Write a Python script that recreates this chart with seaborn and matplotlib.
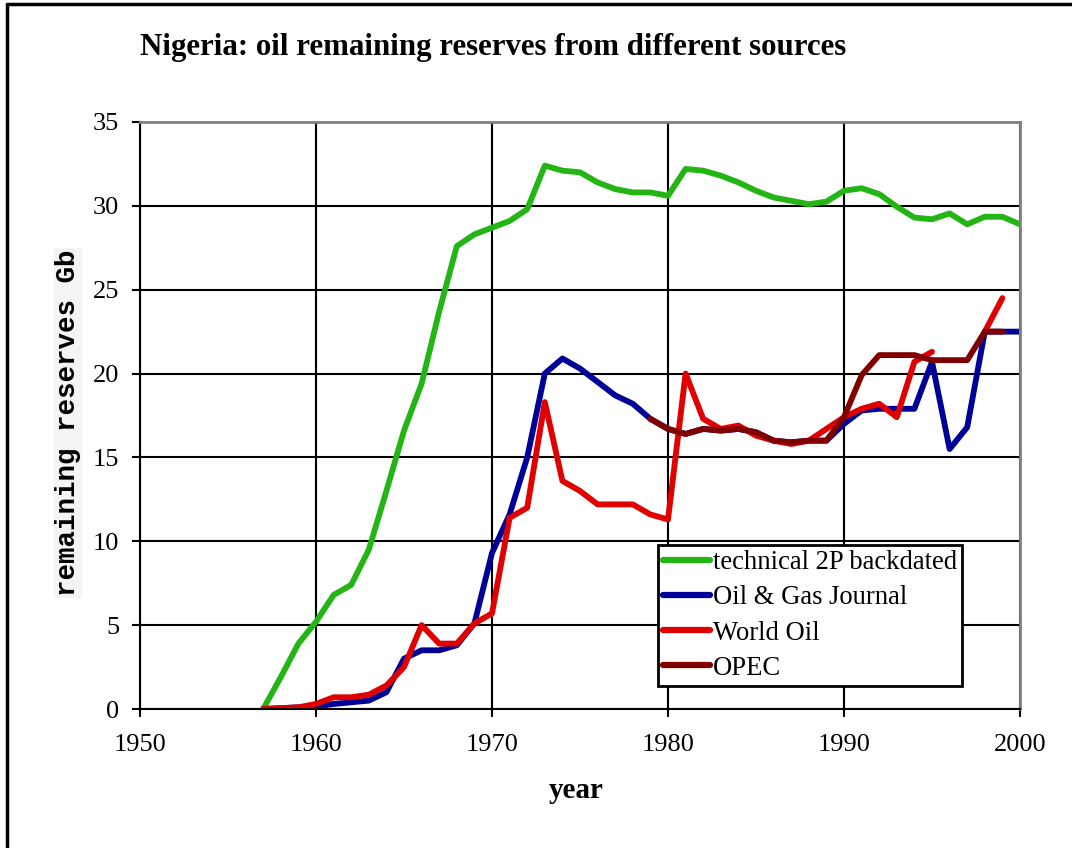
import pandas as pd
import matplotlib
matplotlib.use('Agg')
import matplotlib.pyplot as plt
from matplotlib.lines import Line2D
import seaborn as sns


# Data (Gb)
years_2p = list(range(1957, 2001))
tech_2p = [0.0, 1.9, 3.9, 5.2, 6.8, 7.4, 9.5, 13.0, 16.6, 19.4,
           23.7, 27.6, 28.3, 28.7, 29.1, 29.8, 32.4, 32.1, 32.0, 31.4,
           31.0, 30.8, 30.8, 30.6, 32.2, 32.1, 31.8, 31.4, 30.9, 30.5,
           30.3, 30.1, 30.25, 30.9, 31.05, 30.7, 29.95, 29.3, 29.2, 29.55,
           28.9, 29.35, 29.35, 28.9]

years_ogj = list(range(1957, 2001))
ogj = [0.0, 0.05, 0.1, 0.15, 0.3, 0.4, 0.5, 1.0, 3.0, 3.5,
       3.5, 3.8, 5.1, 9.3, 11.6, 15.0, 20.0, 20.9, 20.3, 19.5,
       18.7, 18.2, 17.3, 16.7, 16.4, 16.7, 16.6, 16.7, 16.5, 16.0,
       15.9, 16.0, 16.0, 17.0, 17.8, 17.9, 17.9, 17.9, 20.7, 15.5,
       16.8, 22.5, 22.5, 22.5]

years_wo = list(range(1957, 1996)) + [1998, 1999]
world_oil = [0.0, 0.05, 0.1, 0.3, 0.7, 0.7, 0.85, 1.4, 2.5, 5.0,
             3.9, 3.9, 5.1, 5.7, 11.4, 12.0, 18.3, 13.6, 13.0, 12.2,
             12.2, 12.2, 11.6, 11.3, 20.0, 17.3, 16.7, 16.9, 16.3, 16.0,
             15.8, 16.0, 16.7, 17.4, 17.9, 18.2, 17.4, 20.7, 21.3,
             22.5, 24.5]

years_opec = list(range(1979, 2000))
opec = [17.3, 16.7, 16.4, 16.7, 16.6, 16.7, 16.5, 16.0, 15.9, 16.0,
        16.0, 17.4, 19.9, 21.1, 21.1, 21.1, 20.8, 20.8, 20.8, 22.5, 22.5]

sources = ['technical 2P backdated', 'Oil & Gas Journal', 'World Oil', 'OPEC']
colors = ['#22b514', '#000099', '#e00000', '#800000']

# long table for seaborn; World Oil has a gap 1996-1997 -> second segment
frames = [
    pd.DataFrame({'year': years_2p, 'reserves': tech_2p, 'source': sources[0], 'segment': 0}),
    pd.DataFrame({'year': years_ogj, 'reserves': ogj, 'source': sources[1], 'segment': 0}),
    pd.DataFrame({'year': years_wo, 'reserves': world_oil, 'source': sources[2],
                  'segment': [0 if y <= 1995 else 1 for y in years_wo]}),
    pd.DataFrame({'year': years_opec, 'reserves': opec, 'source': sources[3], 'segment': 0}),
]
df = pd.concat(frames, ignore_index=True)

sns.set_theme(style='white')
plt.rcParams['font.family'] = ['Liberation Serif', 'DejaVu Serif']
plt.rcParams['text.color'] = 'black'

fig = plt.figure(figsize=(10.72, 8.48), dpi=100)
ax = fig.add_axes([140 / 1072, 1 - 709 / 848, 880 / 1072, 587 / 848])

sns.lineplot(data=df, x='year', y='reserves', hue='source', units='segment',
             estimator=None, hue_order=sources, palette=colors, linewidth=4.2,
             solid_capstyle='round', solid_joinstyle='round', ax=ax)

ax.set_xlim(1950, 2000)
ax.set_ylim(0, 35)
ax.set_xticks(range(1950, 2001, 10))
ax.set_yticks(range(0, 36, 5))
ax.grid(True, color='black', linewidth=1.5)
ax.set_axisbelow(True)
ax.set_xlabel('')
ax.set_ylabel('')
ax.tick_params(axis='both', direction='out', length=6, width=1.5, color='black',
               labelsize=19, labelcolor='black', left=True, bottom=True)
ax.tick_params(axis='x', pad=12)
ax.tick_params(axis='y', pad=9)
for side in ['left', 'bottom']:
    ax.spines[side].set_color('black')
    ax.spines[side].set_linewidth(1.5)
for side in ['top', 'right']:
    ax.spines[side].set_color('#808080')
    ax.spines[side].set_linewidth(2)

handles, labels = ax.get_legend_handles_labels()
leg = ax.legend(handles, labels, loc='upper left',
                bbox_to_anchor=(658 / 1072, 1 - 545 / 848), bbox_transform=fig.transFigure,
                fontsize=19.2, frameon=True, fancybox=False, edgecolor='black',
                framealpha=1, borderpad=0.2, handlelength=1.75, handletextpad=0.1,
                labelspacing=0.38, borderaxespad=0)
leg.get_frame().set_linewidth(2)
for line in leg.get_lines():
    line.set_linewidth(4.5)

fig.text(140 / 1072, 1 - 47 / 848, 'Nigeria: oil remaining reserves from different sources',
         ha='left', va='center', fontsize=22.2, fontweight='bold', color='black')
fig.text(576 / 1072, 1 - 790 / 848, 'year', ha='center', va='center',
         fontsize=21, fontweight='bold', color='black')
fig.text(68 / 1072, 1 - 423 / 848, 'remaining reserves Gb', rotation=90,
         ha='center', va='center', fontsize=19.8, fontweight='bold', color='black',
         family=['Liberation Mono', 'DejaVu Sans Mono'],
         bbox=dict(facecolor='#f4f4f4', edgecolor='none', pad=1))

# outer frame (left and top edges only, as in the reference)
fig.add_artist(Line2D([7 / 1072, 7 / 1072], [0, 1 - 4 / 848], transform=fig.transFigure,
                      color='black', linewidth=2.5))
fig.add_artist(Line2D([7 / 1072, 1], [1 - 4 / 848, 1 - 4 / 848], transform=fig.transFigure,
                      color='black', linewidth=2.5))

fig.savefig('out.png', dpi=100)
